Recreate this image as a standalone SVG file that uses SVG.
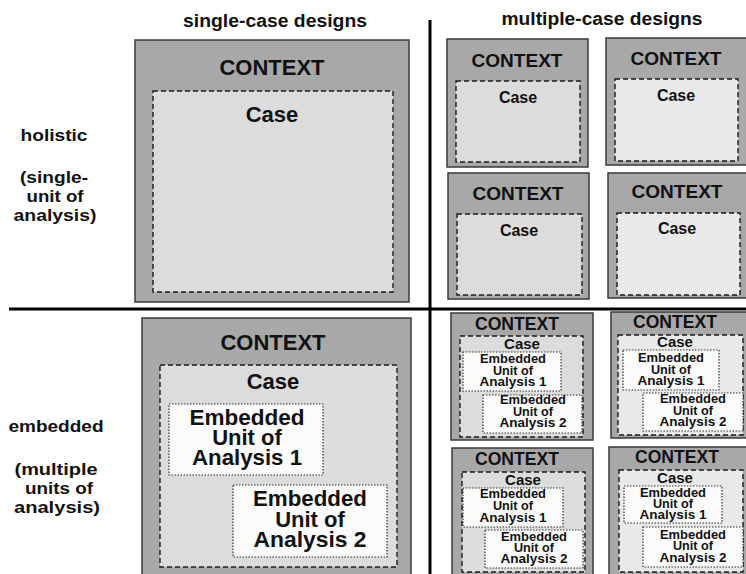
<svg xmlns="http://www.w3.org/2000/svg" width="746" height="574" viewBox="0 0 746 574">
<style>
text{font-family:"Liberation Sans",Arial,sans-serif;font-weight:bold;fill:#111;text-anchor:middle}
.ctx{fill:#a8a8a8;stroke:#3a3a3a;stroke-width:1.5}
.case{fill:#dcdcdc;stroke:#1a1a1a;stroke-width:1.4;stroke-dasharray:5 3}
.case2{fill:#e9e9e9;stroke:#1a1a1a;stroke-width:1.4;stroke-dasharray:5 3}
.emb{fill:#fbfbfb;stroke:#333;stroke-width:1.2;stroke-dasharray:1.5 1.5}
.hd{font-size:18px}
.lb{font-size:16px}
.c1{font-size:22px}
.c2{font-size:19px}
.c3{font-size:17.5px}
.k2{font-size:16px}
.k3{font-size:15px}
.e1{font-size:22px}
.e3{font-size:12px}
.div{stroke:#000;stroke-width:3;fill:none}
</style>

<g id="headers">
<text class="hd" x="275" y="27" textLength="184" lengthAdjust="spacingAndGlyphs">single-case designs</text>
<text class="hd" x="602" y="25" textLength="201" lengthAdjust="spacingAndGlyphs">multiple-case designs</text>
</g>

<g id="row-labels">
<text class="lb" x="54" y="141" textLength="67" lengthAdjust="spacingAndGlyphs">holistic</text>
<text class="lb" x="54" y="183" textLength="68" lengthAdjust="spacingAndGlyphs">(single-</text>
<text class="lb" x="55" y="202" textLength="57" lengthAdjust="spacingAndGlyphs">unit of</text>
<text class="lb" x="55" y="221" textLength="83" lengthAdjust="spacingAndGlyphs">analysis)</text>
<text class="lb" x="56" y="432" textLength="95" lengthAdjust="spacingAndGlyphs">embedded</text>
<text class="lb" x="56" y="475" textLength="83" lengthAdjust="spacingAndGlyphs">(multiple</text>
<text class="lb" x="59" y="494" textLength="68" lengthAdjust="spacingAndGlyphs">units of</text>
<text class="lb" x="57" y="513" textLength="86" lengthAdjust="spacingAndGlyphs">analysis)</text>
</g>

<g id="connectors">
<line class="div" x1="430" y1="20" x2="430" y2="574"/>
<line class="div" x1="9" y1="309" x2="746" y2="309"/>
</g>

<g id="single-holistic">
<rect class="ctx" x="135" y="40" width="274" height="262"/>
<text class="c1" x="272" y="75" textLength="105" lengthAdjust="spacingAndGlyphs">CONTEXT</text>
<rect class="case" x="153" y="91" width="240" height="201"/>
<text class="c1" x="272" y="122">Case</text>
</g>

<g id="multi-holistic-1">
<rect class="ctx" x="447" y="39" width="141" height="128"/>
<text class="c2" x="517" y="67" textLength="91" lengthAdjust="spacingAndGlyphs">CONTEXT</text>
<rect class="case" x="456" y="81" width="124" height="81"/>
<text class="k2" x="518" y="103">Case</text>
</g>
<g id="multi-holistic-2">
<rect class="ctx" x="606" y="38" width="142" height="127"/>
<text class="c2" x="676" y="65" textLength="91" lengthAdjust="spacingAndGlyphs">CONTEXT</text>
<rect class="case2" x="615" y="79" width="123" height="82"/>
<text class="k2" x="676" y="101">Case</text>
</g>
<g id="multi-holistic-3">
<rect class="ctx" x="448" y="173" width="141" height="126"/>
<text class="c2" x="518" y="200" textLength="91" lengthAdjust="spacingAndGlyphs">CONTEXT</text>
<rect class="case" x="457" y="214" width="125" height="81"/>
<text class="k2" x="519" y="236">Case</text>
</g>
<g id="multi-holistic-4">
<rect class="ctx" x="608" y="173" width="140" height="125"/>
<text class="c2" x="677" y="198" textLength="91" lengthAdjust="spacingAndGlyphs">CONTEXT</text>
<rect class="case2" x="617" y="213" width="123" height="82"/>
<text class="k2" x="677" y="234">Case</text>
</g>

<g id="single-embedded">
<rect class="ctx" x="142" y="318" width="269" height="262"/>
<text class="c1" x="273" y="350" textLength="105" lengthAdjust="spacingAndGlyphs">CONTEXT</text>
<rect class="case" x="160" y="365" width="237" height="202"/>
<text class="c1" x="273" y="389">Case</text>
<rect class="emb" x="169" y="404" width="154" height="71"/>
<text class="e1" x="247" y="425" textLength="115" lengthAdjust="spacingAndGlyphs">Embedded</text>
<text class="e1" x="247" y="445">Unit of</text>
<text class="e1" x="247" y="465" textLength="110" lengthAdjust="spacingAndGlyphs">Analysis 1</text>
<rect class="emb" x="233" y="485" width="154" height="72"/>
<text class="e1" x="310" y="506" textLength="114" lengthAdjust="spacingAndGlyphs">Embedded</text>
<text class="e1" x="310" y="527">Unit of</text>
<text class="e1" x="310" y="547" textLength="113" lengthAdjust="spacingAndGlyphs">Analysis 2</text>
</g>

<g id="multi-embedded-1">
<rect class="ctx" x="451" y="313" width="142" height="127"/>
<text class="c3" x="517" y="330" textLength="84" lengthAdjust="spacingAndGlyphs">CONTEXT</text>
<rect class="case" x="460" y="336" width="123" height="101"/>
<text class="k3" x="522" y="349">Case</text>
<rect class="emb" x="463" y="352" width="98" height="39"/>
<text class="e3" x="513" y="363" textLength="66" lengthAdjust="spacingAndGlyphs">Embedded</text>
<text class="e3" x="513" y="374.5" textLength="40" lengthAdjust="spacingAndGlyphs">Unit of</text>
<text class="e3" x="513" y="386" textLength="67" lengthAdjust="spacingAndGlyphs">Analysis 1</text>
<rect class="emb" x="483" y="395" width="99" height="38"/>
<text class="e3" x="533" y="404" textLength="66" lengthAdjust="spacingAndGlyphs">Embedded</text>
<text class="e3" x="533" y="415.5" textLength="40" lengthAdjust="spacingAndGlyphs">Unit of</text>
<text class="e3" x="533" y="427" textLength="67" lengthAdjust="spacingAndGlyphs">Analysis 2</text>
</g>
<g id="multi-embedded-2">
<rect class="ctx" x="611" y="312" width="137" height="126"/>
<text class="c3" x="675" y="328" textLength="84" lengthAdjust="spacingAndGlyphs">CONTEXT</text>
<rect class="case2" x="618" y="335" width="125" height="100"/>
<text class="k3" x="675" y="347">Case</text>
<rect class="emb" x="623" y="350" width="96" height="40"/>
<text class="e3" x="671" y="362" textLength="66" lengthAdjust="spacingAndGlyphs">Embedded</text>
<text class="e3" x="671" y="373.5" textLength="40" lengthAdjust="spacingAndGlyphs">Unit of</text>
<text class="e3" x="671" y="385" textLength="67" lengthAdjust="spacingAndGlyphs">Analysis 1</text>
<rect class="emb" x="643" y="393" width="100" height="38"/>
<text class="e3" x="693" y="403" textLength="66" lengthAdjust="spacingAndGlyphs">Embedded</text>
<text class="e3" x="693" y="414.5" textLength="40" lengthAdjust="spacingAndGlyphs">Unit of</text>
<text class="e3" x="693" y="426" textLength="67" lengthAdjust="spacingAndGlyphs">Analysis 2</text>
</g>
<g id="multi-embedded-3">
<rect class="ctx" x="452" y="448" width="141" height="130"/>
<text class="c3" x="517" y="465" textLength="84" lengthAdjust="spacingAndGlyphs">CONTEXT</text>
<rect class="case" x="462" y="472" width="123" height="100"/>
<text class="k3" x="523" y="485">Case</text>
<rect class="emb" x="463" y="488" width="100" height="39"/>
<text class="e3" x="513" y="498" textLength="66" lengthAdjust="spacingAndGlyphs">Embedded</text>
<text class="e3" x="513" y="510" textLength="40" lengthAdjust="spacingAndGlyphs">Unit of</text>
<text class="e3" x="513" y="522" textLength="67" lengthAdjust="spacingAndGlyphs">Analysis 1</text>
<rect class="emb" x="485" y="530" width="98" height="38"/>
<text class="e3" x="534" y="541" textLength="66" lengthAdjust="spacingAndGlyphs">Embedded</text>
<text class="e3" x="534" y="552" textLength="40" lengthAdjust="spacingAndGlyphs">Unit of</text>
<text class="e3" x="534" y="563" textLength="67" lengthAdjust="spacingAndGlyphs">Analysis 2</text>
</g>
<g id="multi-embedded-4">
<rect class="ctx" x="609" y="447" width="139" height="130"/>
<text class="c3" x="677" y="463" textLength="84" lengthAdjust="spacingAndGlyphs">CONTEXT</text>
<rect class="case2" x="619" y="470" width="124" height="102"/>
<text class="k3" x="675" y="483">Case</text>
<rect class="emb" x="624" y="486" width="98" height="37"/>
<text class="e3" x="673" y="497" textLength="66" lengthAdjust="spacingAndGlyphs">Embedded</text>
<text class="e3" x="673" y="508" textLength="40" lengthAdjust="spacingAndGlyphs">Unit of</text>
<text class="e3" x="673" y="519" textLength="67" lengthAdjust="spacingAndGlyphs">Analysis 1</text>
<rect class="emb" x="643" y="527" width="100" height="40"/>
<text class="e3" x="693" y="539" textLength="66" lengthAdjust="spacingAndGlyphs">Embedded</text>
<text class="e3" x="693" y="550" textLength="40" lengthAdjust="spacingAndGlyphs">Unit of</text>
<text class="e3" x="693" y="562" textLength="67" lengthAdjust="spacingAndGlyphs">Analysis 2</text>
</g>
</svg>
